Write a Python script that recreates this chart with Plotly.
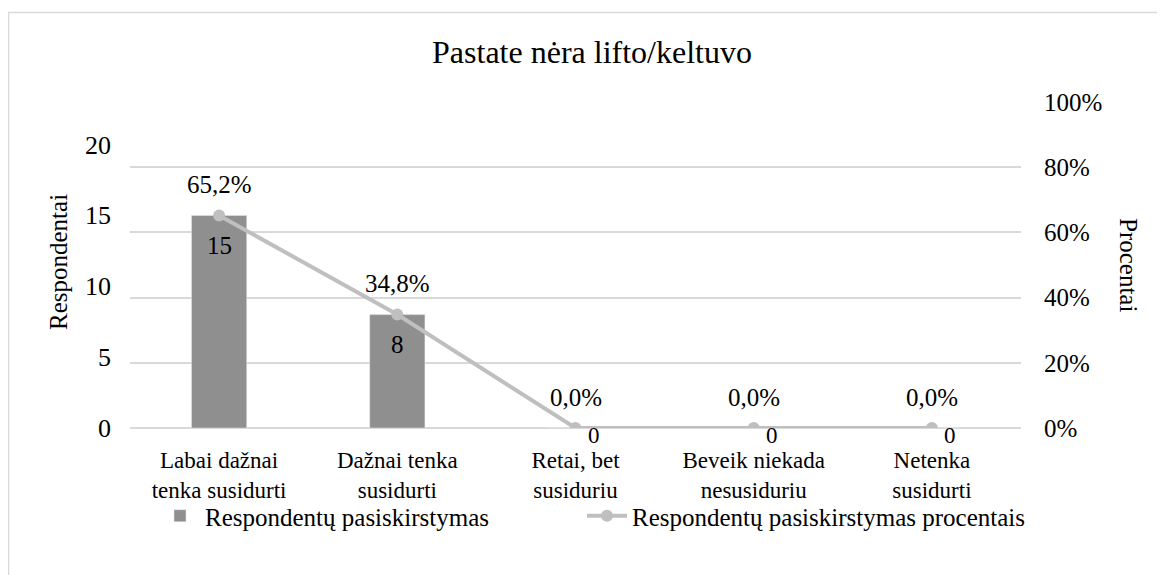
import plotly.graph_objects as go

categories = [
    "Labai dažnai<br>tenka susidurti",
    "Dažnai tenka<br>susidurti",
    "Retai, bet<br>susiduriu",
    "Beveik niekada<br>nesusiduriu",
    "Netenka<br>susidurti",
]
counts = [15, 8, 0, 0, 0]
percents = [65.2, 34.8, 0.0, 0.0, 0.0]

FONT = "'Liberation Serif', 'Times New Roman', 'DejaVu Serif', serif"
GRID = "#d9d9d9"
BAR_COLOR = "#8f8f8f"
LINE_COLOR = "#bfbfbf"

# the page body adds an 8px margin, so the figure is drawn 8px smaller
OFF = 8
W, H = 1165 - OFF, 575 - OFF
L, R, T, B = 130 - OFF, 144, 102 - OFF, 147
PW, PH = W - L - R, H - T - B


def px_x(px):
    return (px - OFF - L) / PW


def px_y(py):
    return (H - B - (py - OFF)) / PH


fig = go.Figure()
fig.add_trace(go.Bar(
    x=categories,
    y=counts,
    name="Respondentų pasiskirstymas",
    marker_color=BAR_COLOR,
    width=0.31,
    showlegend=True,
    legend="legend",
))
fig.add_trace(go.Scatter(
    x=categories,
    y=[p / 100 for p in percents],
    name="Respondentų pasiskirstymas procentais",
    mode="lines+markers",
    line=dict(color=LINE_COLOR, width=4),
    marker=dict(color=LINE_COLOR, size=12),
    yaxis="y2",
    showlegend=True,
    legend="legend2",
))

label_font = dict(family=FONT, size=25, color="black")
annotations = []
for c, v in zip(categories, counts):
    annotations.append(dict(
        x=c, y=v, xref="x", yref="y", text=str(v), showarrow=False,
        yanchor="middle", yshift=-30 if v > 0 else -7, xshift=0 if v > 0 else 18,
        font=label_font if v > 0 else dict(label_font, size=23),
    ))
for c, p in zip(categories, percents):
    annotations.append(dict(
        x=c, y=p / 100, xref="x", yref="y2",
        text=f"{p:.1f}%".replace(".", ","), showarrow=False,
        yanchor="middle", yshift=31,
        font=label_font,
    ))
annotations.append(dict(
    x=px_x(1129), y=0.5, xref="paper", yref="paper", text="Procentai",
    xanchor="center", yanchor="middle",
    showarrow=False, textangle=90, font=label_font,
))
annotations.append(dict(
    x=px_x(58), y=px_y(262), xref="paper", yref="paper", text="Respondentai",
    xanchor="center", yanchor="middle",
    showarrow=False, textangle=-90, font=label_font,
))

legend_common = dict(
    orientation="h",
    xanchor="left",
    yanchor="middle",
    y=px_y(516),
    bgcolor="rgba(0,0,0,0)",
    font=dict(family=FONT, size=25),
    itemwidth=40,
    visible=True,
)

fig.update_layout(
    width=W,
    height=H,
    margin=dict(l=L, r=R, t=T, b=B, autoexpand=False),
    paper_bgcolor="white",
    plot_bgcolor="white",
    font=dict(family=FONT, size=24, color="black"),
    showlegend=True,
    title=dict(
        text="Pastate nėra lifto/keltuvo",
        x=px_x(592), xref="paper", xanchor="center",
        y=1 - (52 - OFF) / H, yanchor="middle",
        font=dict(family=FONT, size=32, color="black"),
    ),
    xaxis=dict(
        showgrid=False,
        showline=False,
        ticks="",
        automargin=False,
        ticklabelstandoff=16,
        tickfont=dict(family=FONT, size=23),
    ),
    yaxis=dict(
        range=[0, 23],
        dtick=5,
        showgrid=False,
        zeroline=False,
        automargin=False,
        ticklabelstandoff=18,
        tickfont=dict(family=FONT, size=26),
    ),
    yaxis2=dict(
        range=[0, 1],
        dtick=0.2,
        tickformat=".0%",
        overlaying="y",
        side="right",
        showgrid=True,
        gridcolor=GRID,
        gridwidth=1.5,
        zeroline=True,
        zerolinecolor=GRID,
        zerolinewidth=1.5,
        automargin=False,
        ticklabelstandoff=22,
        tickfont=dict(family=FONT, size=25),
    ),
    legend=dict(legend_common, x=px_x(155)),
    legend2=dict(legend_common, x=px_x(582)),
    bargap=0.69,
    annotations=annotations,
    shapes=[dict(
        type="rect", xref="paper", yref="paper",
        x0=px_x(8.5), x1=px_x(1172), y0=px_y(582), y1=px_y(12.5),
        line=dict(color=GRID, width=1.5), layer="below",
    )],
)

fig.write_html("out.html")
